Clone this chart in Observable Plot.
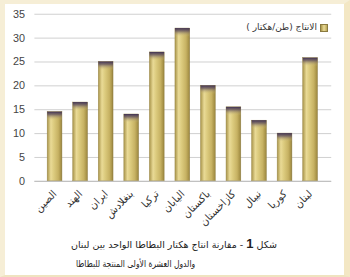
<!DOCTYPE html>
<html><head><meta charset="utf-8">
<script src="https://cdn.jsdelivr.net/npm/d3@7"></script>
<script src="https://cdn.jsdelivr.net/npm/@observablehq/plot@0.6"></script>
<style>
html,body{margin:0;padding:0;background:#fff;}
#wrap{position:relative;width:350px;height:277px;overflow:hidden;background:#fff;box-sizing:border-box;
 border-left:5px solid #f6eed6;border-top:4px solid #f6eed6;border-right:6px solid #f3e7c4;border-bottom:2px solid #efe3c0;}
#chart{position:absolute;left:-5px;top:-4px;}
#legend{position:absolute;left:223px;top:18px;width:100px;font:9px "DejaVu Sans";color:#333;direction:rtl;text-align:right;white-space:nowrap;}
#legend span.sw{display:inline-block;width:6px;height:6px;background:linear-gradient(90deg,#a89548,#eadb98,#b8a455);border:0.5px solid #8a7a40;margin-left:3px;vertical-align:middle;}
.cap{position:absolute;font:9.5px "DejaVu Sans";color:#222;direction:rtl;white-space:nowrap;transform-origin:left top;}
.cap b{font:bold 13px "Liberation Sans";}
</style></head>
<body>
<div id="wrap">
<div id="chart"></div>
<div id="legend"><span class="sw"></span>الانتاج (طن/هكتار )</div>
<div class="cap" style="top:232px;left:66px;">شكل <b>1</b> - مقارنة انتاج هكتار البطاطا الواحد بين لبنان</div>
<div class="cap" style="top:254px;left:71px;transform:scaleX(0.8);">والدول العشرة الأولى المنتجة للبطاطا</div>
</div>
<script>
const countries = ["الصين","الهند","ايران","بنغلادش","تركيا","اليابان","باكستان","كازاخستان","نيبال","كوريا","لبنان"];
const yields = [14.5,16.5,25,14,27,32,20,15.5,12.7,10,25.8];
const yTicks = [0,5,10,15,20,25,30,35];

const data = countries.map((c,i)=>({c, v: yields[i]}));

const plot = Plot.plot({
  width: 350,
  height: 232,
  marginTop: 14,
  marginBottom: 48,
  marginLeft: 35,
  marginRight: 13,
  style: {background: "transparent", fontFamily: "DejaVu Sans"},
  x: {domain: countries, padding: 0.42, label: null, tickSize: 0, tickRotate: -45, tickPadding: 11},
  y: {domain: [0,35], ticks: yTicks, label: null, tickSize: 0, tickPadding: 10},
  marks: [
    Plot.ruleY(yTicks, {stroke: "#cfcfcf", strokeWidth: 1}),
    Plot.barY(data, {x: "c", y: "v", fill: "url(#goldH)", stroke: "#9c8b4c", strokeWidth: 0.5}),
    Plot.rectY(data, {x: "c", y1: d => d.v - 1.8, y2: d => d.v, fill: "url(#capV)"}),
    Plot.ruleY([0], {stroke: "#bdbdbd"})
  ]
});

const svg = d3.select(plot);
const defs = svg.insert("defs", ":first-child");
const g1 = defs.append("linearGradient").attr("id","goldH").attr("x1","0").attr("x2","1").attr("y1","0").attr("y2","0");
[["0%","#a8944a"],["25%","#e9da96"],["45%","#dccb7e"],["75%","#c7b263"],["95%","#a48f45"],["100%","#7d6c34"]]
  .forEach(([o,c])=>g1.append("stop").attr("offset",o).attr("stop-color",c));
const g2 = defs.append("linearGradient").attr("id","capV").attr("x1","0").attr("x2","0").attr("y1","0").attr("y2","1");
[["0%","#3f3153",1],["35%","#6a5a62",0.8],["100%","#d8c880",0]]
  .forEach(([o,c,a])=>g2.append("stop").attr("offset",o).attr("stop-color",c).attr("stop-opacity",a));

svg.selectAll("[aria-label='y-axis tick label'] text").attr("font-family","Liberation Sans").attr("font-size",11).attr("fill","#444");
svg.selectAll("[aria-label='x-axis tick label'] text").attr("font-size",10.5).attr("fill","#333");
document.getElementById("chart").appendChild(plot);
</script>
</body></html>
